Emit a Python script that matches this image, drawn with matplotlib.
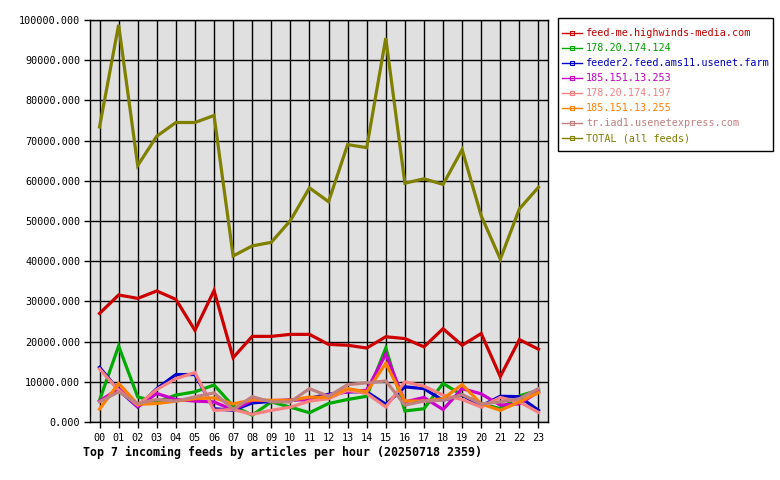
import matplotlib.pyplot as plt
from matplotlib.lines import Line2D
from matplotlib.patches import Rectangle
from matplotlib.ticker import FuncFormatter

hours = ['%02d' % h for h in range(24)]

feed_me = [27000, 31600, 30750, 32600, 30500, 22800, 32700, 16000, 21300, 21300, 21800, 21800,
           19300, 19100, 18400, 21200, 20750, 18700, 23200, 19100, 22000, 11300, 20500, 18100]
f_124 = [5400, 18900, 6250, 5000, 6700, 7500, 9200, 4000, 1700, 5000, 3700, 2300,
         4600, 5600, 6400, 18400, 2750, 3300, 9600, 6700, 4600, 3300, 6500, 7900]
feeder2 = [13600, 7900, 3750, 8300, 11800, 11800, 3300, 2900, 4750, 5100, 5400, 5900,
           6900, 7500, 7500, 4400, 8750, 8300, 5400, 6700, 4000, 6400, 6300, 2900]
f_253 = [5200, 8300, 3750, 7100, 5600, 5200, 5000, 3000, 5400, 5300, 5500, 5500,
         6700, 7500, 7900, 16900, 5000, 6100, 3100, 8300, 7000, 4200, 4500, 7500]
f_197 = [13200, 7900, 4200, 8100, 10800, 12300, 2900, 3100, 1900, 2900, 3700, 5200,
         5800, 7900, 7100, 3750, 10000, 8900, 6700, 5600, 3700, 6100, 5000, 2400]
f_255 = [3200, 9600, 4400, 4600, 5200, 5800, 6000, 4500, 5500, 5400, 5400, 6200,
         6100, 8300, 7500, 14600, 5200, 5200, 5800, 9300, 4500, 2900, 5000, 7300]
tr_iad1 = [5000, 7500, 4600, 5600, 5200, 6250, 7250, 3100, 6300, 5000, 5000, 8300,
           6400, 9300, 9750, 10200, 4200, 5200, 5400, 6800, 4500, 5000, 5800, 8300]
total = [73400, 98800, 63800, 71100, 74500, 74500, 76250, 41300, 43800, 44700, 50100, 58250,
         54800, 69000, 68250, 95500, 59400, 60500, 59100, 67750, 51300, 40500, 53000, 58400]

names = ['feed-me.highwinds-media.com', '178.20.174.124', 'feeder2.feed.ams11.usenet.farm',
         '185.151.13.253', '178.20.174.197', '185.151.13.255', 'tr.iad1.usenetexpress.com',
         'TOTAL (all feeds)']
series = [feed_me, f_124, feeder2, f_253, f_197, f_255, tr_iad1, total]
colors = ['#cc0000', '#00aa00', '#0000cc', '#cc00cc', '#f88080', '#ff8000', '#c08080', '#808000']
text_colors = ['#c00000', '#00a000', '#0000c0', '#c000c0', '#f08080', '#ff8000', '#c08080', '#808000']

plt.rcParams['font.family'] = 'DejaVu Sans Mono'

fig = plt.figure(figsize=(7.8, 4.8), dpi=100)
ax = fig.add_axes([90 / 780, 1 - 422 / 480, 458 / 780, 402 / 480])
ax.set_facecolor('#e0e0e0')

x = list(range(len(hours)))
for vals, c in zip(series, colors):
    ax.plot(x, vals, color=c, linewidth=2.3, solid_joinstyle='miter')

ax.set_xlim(-0.5, 23.5)
ax.set_ylim(0, 100000)
ax.set_xticks(x)
ax.set_xticklabels(hours, fontsize=7.3)
ax.set_yticks(range(0, 100001, 10000))
ax.yaxis.set_major_formatter(FuncFormatter(lambda v, p: '%.3f' % v))
ax.tick_params(axis='y', labelsize=7.3, length=4, width=1, direction='out', pad=3)
ax.tick_params(axis='x', length=4, width=1, direction='out', pad=4)
ax.grid(True, color='black', linewidth=1)
ax.set_axisbelow(True)
for s in ax.spines.values():
    s.set_linewidth(1)

# legend box drawn by hand so the padding can differ per side
fig.patches.append(Rectangle((558 / 780, 1 - 151 / 480), 215 / 780, 133 / 480,
                             transform=fig.transFigure, fill=False, edgecolor='black',
                             linewidth=1))
handles = [Line2D([0], [0], color=c, linewidth=1.0, marker='s', markersize=3,
                  markerfacecolor='none', markeredgewidth=0.8) for c in colors]
leg = fig.legend(handles, names, loc='upper left', bbox_to_anchor=(558 / 780, 1 - 24 / 480),
                 fontsize=7.3, frameon=False, handlelength=2.0, handletextpad=0.35,
                 labelspacing=0.5, borderpad=0.4, borderaxespad=0)
for t, c in zip(leg.get_texts(), text_colors):
    t.set_color(c)

fig.text(83 / 780, 1 - 452 / 480, 'Top 7 incoming feeds by articles per hour (20250718 2359)',
         fontsize=8.4, fontweight='bold', va='center', ha='left')

fig.savefig('out.png', dpi=100)
